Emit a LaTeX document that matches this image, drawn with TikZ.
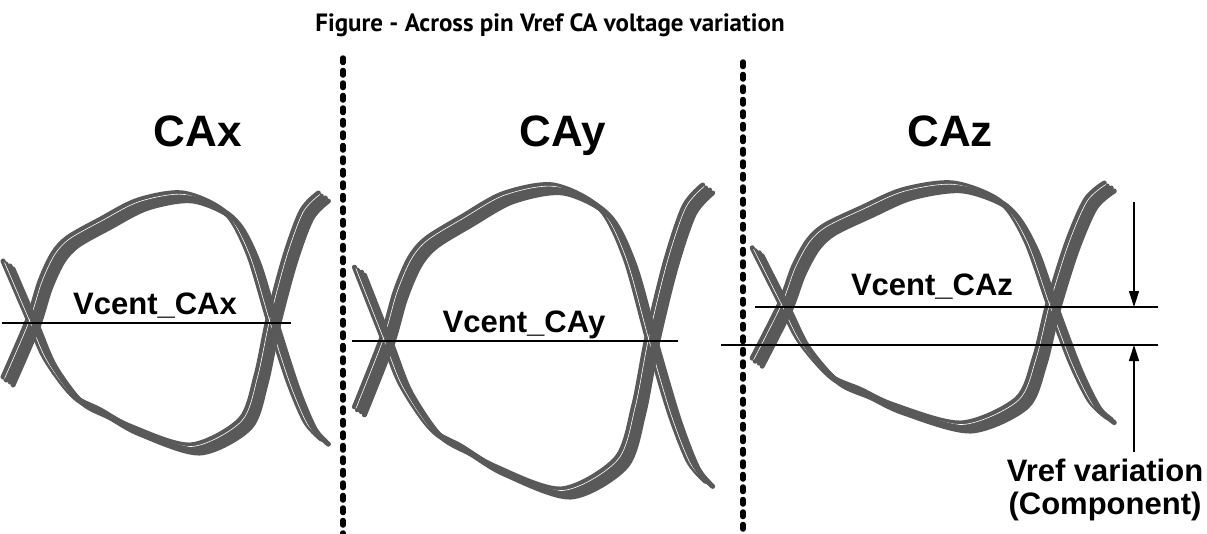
\documentclass[tikz,border=0pt]{standalone}
\usepackage{fontspec}
\setmainfont{Liberation Sans}
\newfontfamily\titlefont{PT Sans}
\usetikzlibrary{arrows.meta}
\definecolor{eyegray}{RGB}{89,89,89}
\tikzset{
  eyeline/.style={draw=eyegray, line width=5pt, line cap=round, line join=round},
  hair/.style={draw=white, line width=0.6pt},
  refline/.style={draw=black, line width=1.1pt},
  arr/.style={draw=black, line width=1.4pt, -{Triangle[length=16pt,width=10pt]}},
  divider/.style={draw=black, line width=5.5pt, line cap=round, dash pattern=on 4.5pt off 8pt},
  lab/.style={font=\fontsize{31}{35}\selectfont\bfseries, inner sep=0pt},
  big/.style={font=\fontsize{44}{48}\selectfont\bfseries, inner sep=0pt},
  ttl/.style={font=\titlefont\fontsize{25}{29}\selectfont\bfseries, inner sep=0pt}
}
\newcommand\eyeupper{plot[smooth, tension=0.5] coordinates {(-0.104,-0.46) (0,0) (0.05,0.30) (0.104,0.52) (0.167,0.648) (0.30,0.79) (0.458,0.944) (0.646,1.0) (0.821,0.848) (0.917,0.52) (1,0) (1.083,-0.49) (1.154,-0.81) (1.21,-0.93)}}
\newcommand\eyelower{plot[smooth, tension=0.5] coordinates {(-0.104,0.46) (0,0) (0.07,-0.31) (0.183,-0.60) (0.30,-0.72) (0.425,-0.85) (0.675,-1.0) (0.883,-0.80) (0.95,-0.45) (1,0) (1.07,0.5) (1.14,0.86) (1.21,1.0)}}
\newcommand\eyediagram[4]{%
  \begin{scope}[xshift=#1pt, yshift=-#3pt, x=#2pt, y=#4pt]
    \foreach \dx/\dy in {-5/-4, -2/-1}{
      \draw[eyeline, xshift=\dx pt, yshift=-\dy pt] \eyeupper;
      \draw[eyeline, xshift=\dx pt, yshift=-\dy pt] \eyelower;
    }
    \draw[hair, xshift=-3.5pt, yshift=2.5pt] \eyeupper;
    \draw[hair, xshift=-3.5pt, yshift=2.5pt] \eyelower;
    \foreach \dx/\dy in {2/1, 5/4}{
      \draw[eyeline, xshift=\dx pt, yshift=-\dy pt] \eyeupper;
      \draw[eyeline, xshift=\dx pt, yshift=-\dy pt] \eyelower;
    }
  \end{scope}}
\begin{document}
\begin{tikzpicture}[x=1pt, y=-1pt]
\useasboundingbox (0,0) rectangle (1207,533);
% title
\node[ttl, anchor=base] (title) at (550,31) {Figure - Across pin Vref CA voltage variation};
% dividers
\coordinate (d1t) at (343,58); \coordinate (d1b) at (343,545);
\coordinate (d2t) at (743,62); \coordinate (d2b) at (743,545);
\draw[divider] (d1t) -- (d1b);
\draw[divider] (d2t) -- (d2b);
% panel labels
\node[big, anchor=base] (cax) at (198,146) {CAx};
\node[big, anchor=base] (cay) at (563,146) {CAy};
\node[big, anchor=base] (caz) at (950,146) {CAz};
% eyes
\eyediagram{33}{240}{323}{126}
\eyediagram{387}{265}{341}{152}
\eyediagram{785}{268}{307}{120}
% reference lines
\coordinate (l1a) at (2,323); \coordinate (l1b) at (291,323);
\coordinate (l2a) at (352,341); \coordinate (l2b) at (678,341);
\coordinate (l3a) at (755,307); \coordinate (l3b) at (1158,307);
\coordinate (l4a) at (721,345); \coordinate (l4b) at (1158,345);
\draw[refline] (l1a) -- (l1b);
\draw[refline] (l2a) -- (l2b);
\draw[refline] (l3a) -- (l3b);
\draw[refline] (l4a) -- (l4b);
% vcent labels
\node[lab, anchor=base] (vx) at (155,314) {Vcent\_CAx};
\node[lab, anchor=base] (vy) at (524,332) {Vcent\_CAy};
\node[lab, anchor=base] (vz) at (932,295) {Vcent\_CAz};
% arrows
\coordinate (a1s) at (1134,202); \coordinate (a1e) at (1134,307);
\coordinate (a2s) at (1134,452); \coordinate (a2e) at (1134,345);
\draw[arr] (a1s) -- (a1e);
\draw[arr] (a2s) -- (a2e);
% vref label
\node[lab, anchor=north, align=center] (vref) at (1105,459) {Vref variation\\[-2pt](Component)};
\end{tikzpicture}
\end{document}
